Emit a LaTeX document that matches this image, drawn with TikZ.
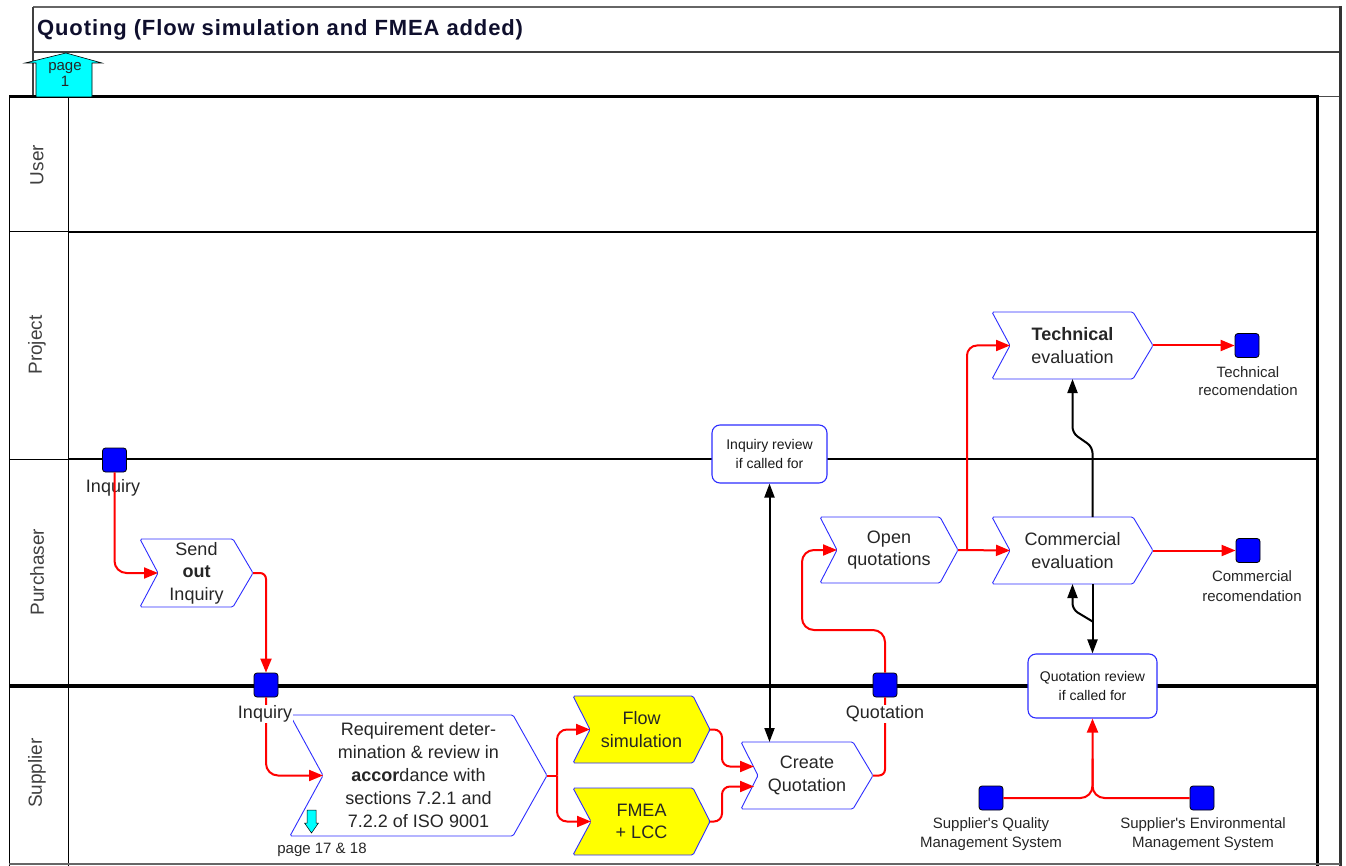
\documentclass[tikz,border=0pt]{standalone}
\usepackage{fontspec}
\setmainfont{Liberation Sans}
\newfontfamily\rawsans{Liberation Sans}[Ligatures=TeXOff]
\usetikzlibrary{arrows.meta,calc}

\definecolor{shapeblue}{RGB}{45,45,255}
\definecolor{evblue}{RGB}{0,0,255}
\definecolor{pagecyan}{RGB}{0,255,255}
\definecolor{taskyellow}{RGB}{255,255,0}
\definecolor{titleink}{RGB}{15,15,45}
\definecolor{flowred}{RGB}{255,0,0}

\newcommand\apos{{\rawsans'}}

\tikzset{
  chev/.style={draw=shapeblue, line width=0.9pt, rounded corners=1.5pt},
  chevtext/.style={align=center, text=black!85, font=\fontsize{18}{22.5}\selectfont, inner sep=0pt},
  event/.style={draw=black, fill=evblue, rounded corners=3pt, minimum size=24pt, inner sep=0pt, line width=0.8pt},
  evlabel/.style={align=center, text=black!85, font=\fontsize{18}{22}\selectfont, inner sep=1pt},
  smalllabel/.style={align=center, text=black!85, font=\fontsize{15}{18.5}\selectfont, inner sep=0pt},
  review/.style={draw=shapeblue, fill=white, line width=1.1pt, rounded corners=8pt, align=center,
    font=\fontsize{14}{19.5}\selectfont, text=black!90, inner sep=0pt},
  lanelabel/.style={rotate=90, text=black!75, font=\fontsize{19}{22}\selectfont},
  flow/.style={draw=flowred, line width=2pt, rounded corners=10pt, -{Triangle[length=14pt,width=11pt]}},
  flowline/.style={draw=flowred, line width=2pt, rounded corners=10pt},
  ctrl/.style={draw=black, line width=2pt, rounded corners=6pt, -{Triangle[length=14pt,width=10pt]}},
  ctrlboth/.style={draw=black, line width=2pt, {Triangle[length=14pt,width=10pt]}-{Triangle[length=14pt,width=10pt]}},
}

% chevron task: name, fill, left x, right x, top y, bottom y, notch depth, tip depth, text
\newcommand\chevbox[9]{%
  \pgfmathsetmacro\cym{(#5+#6)/2}%
  \pgfmathsetmacro\cxm{(#3+#4+#8)/2}%
  \draw[chev,fill=#2] (#3,#5) -- (#4,#5) -- ({#4+#8},\cym) -- (#4,#6) -- (#3,#6) -- ({#3+#7},\cym) -- cycle;
  \coordinate (#1-in) at ({#3+#7},\cym);
  \coordinate (#1-out) at ({#4+#8},\cym);
  \coordinate (#1-top) at (\cxm,#5);
  \coordinate (#1-bot) at (\cxm,#6);
  \node[chevtext] (#1) at (\cxm,\cym) {#9};
}

\begin{document}
\begin{tikzpicture}[x=1pt,y=-1pt]
\useasboundingbox (0,0) rectangle (1346,866);

% header frame
\draw[line width=1.5pt, black!60] (33,7) -- (1340,7);
\draw[line width=1.2pt, black!75] (33,52) -- (1340,52);
\draw[line width=1.2pt, black!75] (33,7) -- (33,97);
\draw[line width=1pt, black!70] (1317,97) -- (1340,97);
\draw[line width=3pt, black!80] (1340,6) -- (1340,866);
\node[anchor=west, font=\fontsize{22}{26}\bfseries\selectfont\addfontfeatures{LetterSpace=4}, text=titleink, inner sep=0pt] (title)
  at (37,29.5) {Quoting (Flow simulation and FMEA added)};

% swimlanes
\draw[line width=1pt] (9,97) -- (9,866);
\draw[line width=1pt] (68,97) -- (68,866);
\draw[line width=1pt] (9,232) -- (68,232) (9,459) -- (68,459) (9,686) -- (68,686);
\draw[line width=2pt] (68,232) -- (1317,232) (68,459) -- (1317,459);
\draw[line width=3.5pt] (9,686) -- (1317,686);
\draw[line width=3pt] (9,97) -- (1317,97) -- (1317,866);
\draw[line width=1.5pt, black!60] (9,864) -- (1340,864);

\node[lanelabel] (laneuser) at (37,165) {User};
\node[lanelabel] (laneproject) at (37,345) {Project};
\node[lanelabel] (lanepurchaser) at (37,572) {Purchaser};
\node[lanelabel] (lanesupplier) at (37,773) {Supplier};

% page reference arrow
\draw[fill=pagecyan, line width=0.6pt] (36,97) -- (36,63) -- (25,63) -- (66,53) -- (102,63) -- (92,63) -- (92,97) -- cycle;
\node[align=center, font=\fontsize{15}{16}\selectfont, text=black!85, inner sep=0pt] (pageone) at (65,74) {page\\1};

% events
\node[event] (inq1) at (114.5,460) {};
\node[evlabel] (inq1l) at (113,488) {Inquiry};
\node[event] (inq2) at (266,685) {};
\node[event] (quot) at (885,685) {};
\node[event] (techev) at (1247,345.5) {};
\node[event] (commev) at (1248,550.5) {};
\node[event] (sqms) at (991,798) {};
\node[event] (sems) at (1202,798) {};

\node[smalllabel] (techevl) at (1248,381) {Technical\\recomendation};
\node[smalllabel, font=\fontsize{15}{20}\selectfont] (commevl) at (1252,586) {Commercial\\recomendation};
\node[smalllabel] (sqmsl) at (991,834) {Supplier\apos s Quality\\Management System};
\node[smalllabel] (semsl) at (1203,834) {Supplier\apos s Environmental\\Management System};

% tasks
\chevbox{sendout}{white}{140}{233}{539}{607}{18}{20}{Send\\\textbf{out}\\Inquiry}
\chevbox{req}{white}{290}{513}{715}{836}{33}{34}{Requirement deter-\\[0.5pt]mination \& review in\\[0.5pt]\textbf{accor}dance with\\[0.5pt]sections 7.2.1 and\\[0.5pt]7.2.2 of ISO 9001}
\chevbox{flowsim}{taskyellow}{573}{693}{696}{763}{17}{17}{Flow\\simulation}
\chevbox{fmea}{taskyellow}{573}{693}{788}{855}{18}{17}{FMEA\\+ LCC}
\chevbox{cq}{white}{741}{853}{742}{809}{17}{20}{Create\\Quotation}
\chevbox{openq}{white}{820}{940}{517}{583}{17}{18}{Open\\quotations}
\chevbox{tech}{white}{992}{1133}{312}{379}{18}{20}{\textbf{Technical}\\evaluation}
\chevbox{comm}{white}{992}{1133}{517}{584}{18}{20}{Commercial\\evaluation}

% review boxes
\node[review, minimum width=115pt, minimum height=58pt] (irev) at (769.5,454) {Inquiry review\\if called for};
\node[review, minimum width=129pt, minimum height=64pt] (qrev) at (1092.5,686) {Quotation review\\if called for};

% page reference below the requirement task
\draw[fill=pagecyan, line width=0.5pt] (307,810) -- (316,810) -- (316,823) -- (318.5,823) -- (311.5,833) -- (304.5,823) -- (307,823) -- cycle;
\node[smalllabel] (pgref) at (322,850) {page 17 \& 18};

% control flow
\draw[flow, rounded corners=12pt] (inq1.south) |- (sendout-in);
\draw[flow, rounded corners=6pt] (sendout-out) -| (inq2.north);
\draw[flow, rounded corners=12pt] (inq2.south) |- (req-in);
\coordinate (split1) at ($(req-out)+(10,0)$);
\draw[flowline] (req-out) -- (split1);
\draw[flow] (split1) |- (flowsim-in);
\draw[flow] (split1) |- (fmea-in);
\draw[flow, rounded corners=8pt] (flowsim-out) -- ++(12,0) |- ($(cq-in)+(-4,-9)$);
\draw[flow, rounded corners=8pt] (fmea-out) -- ++(12,0) |- ($(cq-in)+(-4,11)$);
\draw[flowline, rounded corners=6pt] (cq-out) -| (quot.south);
\draw[flow, rounded corners=12pt] (quot.north) |- ($(openq-in)+(-35,80)$) |- (openq-in);
\draw[flow] (openq-out) -- (comm-in);
\coordinate (split2) at ($(openq-out)+(9,0)$);
\draw[flow] (split2) |- (tech-in);
\draw[flow] (tech-out) -- (techev.west);
\draw[flow] (comm-out) -- (commev.west);
\draw[flow, rounded corners=12pt] (sqms.east) -| (qrev.south);
\draw[flowline, rounded corners=12pt] (sems.west) -| ($(qrev.south)+(0,40)$);

% information flow
\draw[ctrlboth] (irev.south) -- (irev.south |- cq-top);
\draw[ctrl] ($(comm-top)+(20,0)$) -- ++(0,-70) -- ++(-20,-14) -- (tech-bot);
\draw[ctrl] ($(comm-bot)+(20,0)$) -- (qrev.north);
\draw[ctrl] ($(qrev.north)+(0,-32)$) -- ++(-20,-12) -- (comm-bot);

% event labels that interrupt the flow lines
\node[evlabel, fill=white] (inq2l) at (265,714) {Inquiry};
\node[evlabel, fill=white] (quotl) at (885,714) {Quotation};
\end{tikzpicture}
\end{document}
